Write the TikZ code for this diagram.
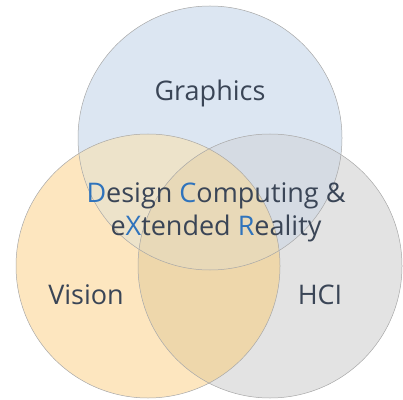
\documentclass[tikz,border=0pt]{standalone}
\usepackage{fontspec}
\setmainfont{Open Sans}
\usetikzlibrary{positioning}

\definecolor{gfxblue}{HTML}{DCE6F2}
\definecolor{visorange}{HTML}{FDE6BF}
\definecolor{hcigray}{HTML}{E3E3E3}
\definecolor{gfxvis}{HTML}{EDE3CA}
\definecolor{gfxhci}{HTML}{D5DBE3}
\definecolor{vishci}{HTML}{EED7AB}
\definecolor{allthree}{HTML}{E8D9B8}
\definecolor{labeltext}{HTML}{3A4556}
\definecolor{initial}{HTML}{2F73BC}
\definecolor{rimgray}{HTML}{A8A8A8}

\tikzset{
  field/.style= {
    font = \fontsize{27}{33}\selectfont,
    text = labeltext,
    inner sep = 0pt
  },
  rim/.style= {
    draw = rimgray,
    line width = 0.5pt
  }
}
\newcommand{\hl}[1]{\textcolor{initial}{#1}}

\begin{document}
\begin{tikzpicture}[x=1pt,y=1pt]
  \useasboundingbox (0,0) rectangle (403,399);

  % circle centres
  \coordinate (cg) at (210,261);
  \coordinate (cv) at (148,133);
  \coordinate (ch) at (270,133);
  \def\rad{132}

  % single areas
  \fill[gfxblue] (cg) circle (\rad);
  \fill[visorange] (cv) circle (\rad);
  \fill[hcigray] (ch) circle (\rad);

  % pairwise overlaps
  \begin{scope}
    \clip (cg) circle (\rad);
    \fill[gfxvis] (cv) circle (\rad);
    \fill[gfxhci] (ch) circle (\rad);
  \end{scope}
  \begin{scope}
    \clip (cv) circle (\rad);
    \fill[vishci] (ch) circle (\rad);
    \clip (cg) circle (\rad);
    \fill[allthree] (ch) circle (\rad);
  \end{scope}

  % outlines
  \draw[rim] (cg) circle (\rad);
  \draw[rim] (cv) circle (\rad);
  \draw[rim] (ch) circle (\rad);

  \node[field] (graphics) at (210,306) {Graphics};
  \node[field] (vision) at (86,104) {Vision};
  \node[field] (hci) at (320,104) {HCI};
  \node[field,align=center] (dcxr) at (216,187) {%
    \hl{D}esign \hl{C}omputing \&\\
    e\hl{X}tended \hl{R}eality};
\end{tikzpicture}
\end{document}
